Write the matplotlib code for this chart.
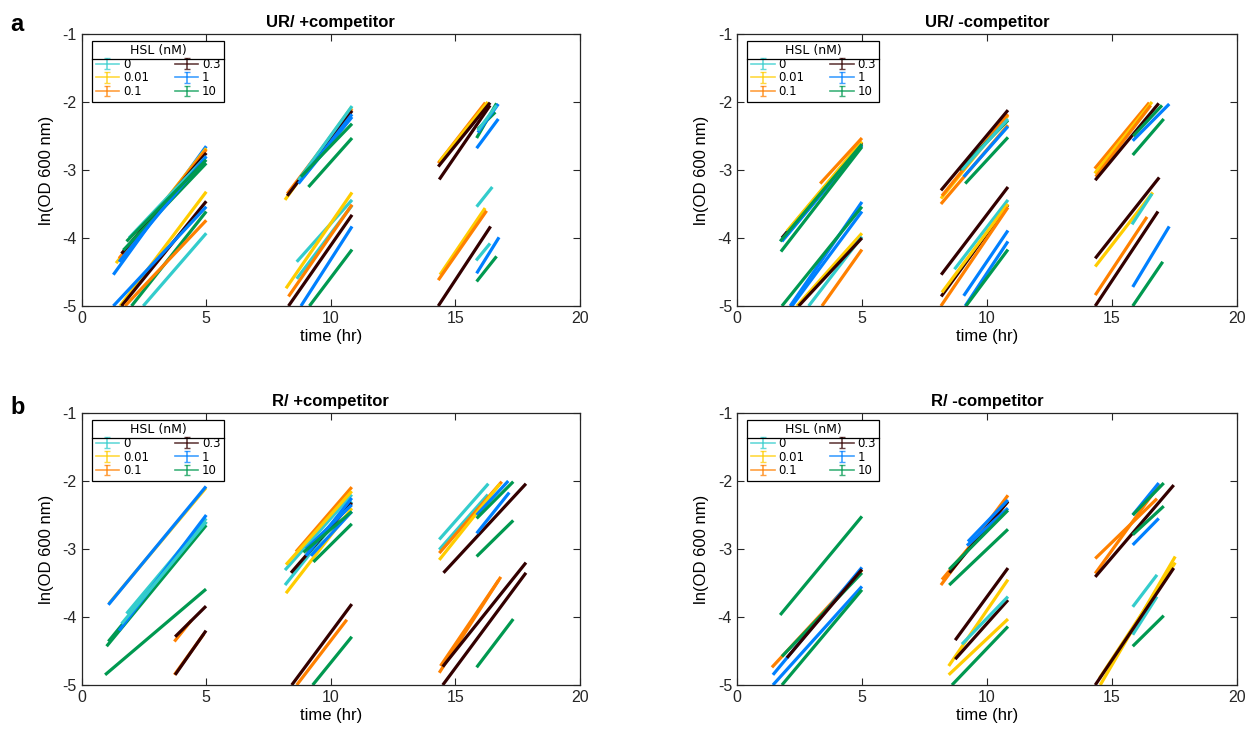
import numpy as np
import matplotlib
matplotlib.use("Agg")
import matplotlib.pyplot as plt
from matplotlib.lines import Line2D
from matplotlib.legend_handler import HandlerErrorbar
from matplotlib.container import ErrorbarContainer

plt.rcParams['font.family'] = ['Liberation Sans', 'DejaVu Sans']

# HSL concentrations and colours
hsl_labels = ["0", "0.01", "0.1", "0.3", "1", "10"]
hsl_colors = ["#33CCCC", "#FFCC00", "#FF8000", "#330000", "#0080FF", "#009950"]
legend_order = ["0", "0.01", "0.1", "0.3", "1", "10"]

# each segment: (HSL, t start, ln OD start, t end, ln OD end)
ur_plus = [
    ("1", 1.27, -4.54, 5.0, -2.65), ("0.01", 1.38, -4.37, 5.0, -2.68),
    ("0.1", 1.5, -4.3, 5.0, -2.7), ("0.3", 1.6, -4.23, 5.0, -2.75),
    ("0", 1.9, -4.0, 5.0, -2.8), ("10", 1.67, -4.18, 5.0, -2.9),
    ("1", 1.5, -4.35, 5.0, -2.8), ("10", 1.8, -4.05, 5.0, -2.85),
    ("0.01", 1.54, -5.0, 5.0, -3.32), ("0.3", 1.6, -5.0, 5.0, -3.46),
    ("1", 1.27, -5.0, 5.0, -3.54), ("10", 2.0, -5.0, 5.0, -3.61),
    ("0.1", 1.74, -5.0, 5.0, -3.74), ("0", 2.47, -5.0, 5.0, -3.93),
    ("0.01", 8.16, -3.44, 10.84, -2.07), ("0.1", 8.25, -3.35, 10.85, -2.1),
    ("0.3", 8.25, -3.38, 10.85, -2.13), ("0", 8.7, -3.15, 10.85, -2.06),
    ("1", 8.7, -3.2, 10.85, -2.22), ("1", 8.9, -3.1, 10.85, -2.18),
    ("10", 8.8, -3.1, 10.85, -2.32), ("10", 9.1, -3.25, 10.85, -2.53),
    ("0", 8.63, -4.35, 10.85, -3.44), ("0.01", 8.2, -4.74, 10.85, -3.33),
    ("0", 8.63, -4.6, 10.85, -3.52), ("0.1", 8.3, -4.86, 10.85, -3.51),
    ("0.3", 8.3, -5.0, 10.85, -3.66), ("1", 8.8, -5.0, 10.85, -3.83),
    ("10", 9.14, -5.0, 10.85, -4.17),
    ("0.1", 14.31, -2.9, 16.2, -2.01), ("0.01", 14.35, -2.88, 16.3, -2.0),
    ("0.3", 14.31, -2.95, 16.39, -2.01), ("0.3", 14.35, -3.14, 16.39, -2.05),
    ("10", 15.85, -2.53, 16.65, -2.02), ("10", 15.9, -2.4, 16.6, -2.15),
    ("1", 15.85, -2.68, 16.72, -2.25), ("1", 15.9, -2.45, 16.72, -2.03),
    ("0", 15.9, -2.42, 16.65, -2.05),
    ("0", 15.85, -3.54, 16.48, -3.25), ("0.01", 14.38, -4.54, 16.19, -3.56),
    ("0.1", 14.31, -4.62, 16.25, -3.6), ("0.3", 14.31, -5.0, 16.41, -3.83),
    ("0", 15.83, -4.33, 16.39, -4.08), ("1", 15.85, -4.52, 16.75, -3.99),
    ("10", 15.85, -4.64, 16.65, -4.27),
]

ur_minus = [
    ("0.3", 1.8, -4.0, 5.0, -2.6), ("0", 1.9, -4.0, 5.0, -2.63),
    ("0.01", 2.0, -3.9, 5.0, -2.58), ("1", 1.8, -4.05, 5.0, -2.64),
    ("0.1", 3.33, -3.2, 5.0, -2.53),
    ("10", 1.73, -4.05, 5.0, -2.62), ("10", 1.76, -4.2, 5.0, -2.66),
    ("1", 2.13, -5.0, 5.0, -3.47), ("1", 2.2, -5.0, 5.0, -3.61),
    ("10", 1.8, -5.0, 5.0, -3.54), ("0.01", 2.4, -5.0, 5.0, -3.93),
    ("0", 2.87, -5.0, 5.0, -3.98), ("0.3", 2.47, -5.0, 5.0, -4.0),
    ("0.1", 3.4, -5.0, 5.0, -4.17),
    ("0.1", 8.16, -3.5, 10.84, -2.34), ("0.01", 8.16, -3.42, 10.84, -2.2),
    ("0.1", 8.2, -3.38, 10.84, -2.18), ("1", 9.07, -3.1, 10.84, -2.36),
    ("10", 9.13, -3.2, 10.84, -2.52), ("10", 8.9, -3.0, 10.84, -2.27),
    ("0", 9.0, -3.0, 10.84, -2.25), ("0.3", 8.16, -3.3, 10.84, -2.12),
    ("0.3", 8.17, -4.54, 10.84, -3.25), ("0", 8.7, -4.46, 10.84, -3.44),
    ("0.3", 8.17, -4.86, 10.84, -3.51), ("0.01", 8.2, -4.8, 10.84, -3.5),
    ("0.1", 8.16, -5.0, 10.84, -3.55), ("1", 9.07, -4.85, 10.84, -3.89),
    ("1", 9.13, -5.0, 10.84, -4.05), ("10", 9.16, -5.0, 10.84, -4.17),
    ("0.1", 14.31, -2.98, 16.49, -2.01), ("0.01", 14.31, -3.05, 16.6, -2.0),
    ("0.1", 14.35, -3.1, 16.55, -2.05), ("0.3", 14.33, -3.15, 16.87, -2.02),
    ("1", 15.83, -2.57, 17.29, -2.03), ("10", 15.83, -2.78, 17.07, -2.25),
    ("10", 15.85, -2.5, 17.0, -2.05),
    ("0.3", 14.33, -4.3, 16.89, -3.11), ("0.01", 14.33, -4.42, 16.63, -3.33),
    ("0", 15.8, -3.8, 16.6, -3.35), ("0.1", 14.33, -4.84, 16.4, -3.69),
    ("0.3", 14.33, -5.0, 16.84, -3.61), ("1", 15.83, -4.72, 17.29, -3.83),
    ("10", 15.83, -5.0, 17.03, -4.35),
]

r_plus = [
    ("0.01", 1.1, -3.8, 4.99, -2.1), ("1", 1.07, -3.82, 4.99, -2.08),
    ("10", 1.0, -4.43, 5.0, -2.65), ("10", 1.07, -4.36, 5.0, -2.6),
    ("0", 1.8, -3.95, 5.0, -2.55), ("1", 1.5, -4.2, 5.0, -2.5),
    ("0", 1.6, -4.1, 5.0, -2.6), ("10", 0.94, -4.85, 4.99, -3.59),
    ("0.1", 3.72, -4.36, 4.4, -4.05), ("0.3", 3.75, -4.29, 4.99, -3.84),
    ("0.1", 3.72, -4.85, 4.9, -4.25), ("0.3", 3.75, -4.85, 4.99, -4.2),
    ("0.1", 8.6, -3.04, 10.84, -2.09), ("0", 8.16, -3.31, 10.84, -2.2),
    ("0.01", 8.2, -3.23, 10.84, -2.15), ("0.01", 8.2, -3.65, 10.84, -2.4),
    ("0", 8.16, -3.53, 10.84, -2.3), ("0.3", 8.4, -3.35, 10.84, -2.32),
    ("1", 9.0, -3.1, 10.84, -2.25), ("1", 9.2, -3.1, 10.84, -2.45),
    ("1", 9.0, -3.0, 10.84, -2.35), ("10", 9.3, -3.19, 10.84, -2.63),
    ("10", 8.9, -3.05, 10.84, -2.45),
    ("0.1", 8.63, -5.0, 10.64, -4.04), ("0.3", 8.43, -5.0, 10.84, -3.81),
    ("10", 9.27, -5.0, 10.84, -4.29),
    ("0", 14.35, -2.86, 16.32, -2.04), ("0", 14.35, -3.01, 16.3, -2.2),
    ("0.1", 14.35, -3.06, 16.86, -2.01), ("0.01", 14.35, -3.16, 16.79, -2.04),
    ("0.3", 14.52, -3.35, 17.83, -2.04), ("1", 15.85, -2.5, 17.12, -2.0),
    ("1", 15.85, -2.77, 17.16, -2.17), ("10", 15.85, -2.55, 17.32, -2.01),
    ("10", 15.85, -3.11, 17.32, -2.58),
    ("0.1", 14.35, -4.82, 16.82, -3.41), ("0.1", 14.4, -4.72, 16.73, -3.46),
    ("0.3", 14.49, -4.73, 17.83, -3.2), ("0.3", 14.49, -5.0, 17.83, -3.35),
    ("10", 15.85, -4.74, 17.32, -4.03),
]

r_minus = [
    ("10", 1.73, -3.97, 5.0, -2.52), ("0.1", 1.4, -4.74, 5.0, -3.31),
    ("1", 1.44, -4.85, 5.0, -3.27), ("10", 1.8, -4.58, 5.0, -3.35),
    ("0.3", 2.0, -4.6, 5.0, -3.3), ("1", 1.44, -5.0, 5.0, -3.55),
    ("10", 1.8, -5.0, 5.0, -3.6),
    ("0.1", 8.16, -3.53, 10.84, -2.21), ("0.1", 8.2, -3.45, 10.84, -2.3),
    ("0.3", 8.5, -3.35, 10.84, -2.3), ("1", 9.24, -2.89, 10.84, -2.28),
    ("1", 9.2, -2.95, 10.84, -2.4), ("10", 8.49, -3.53, 10.84, -2.71),
    ("10", 8.49, -3.3, 10.84, -2.43),
    ("0.3", 8.73, -4.34, 10.84, -3.28), ("0.01", 8.47, -4.72, 10.84, -3.45),
    ("0.3", 8.73, -4.62, 10.84, -3.75), ("0", 9.0, -4.4, 10.84, -3.7),
    ("0.01", 8.47, -4.85, 10.84, -4.03), ("10", 8.6, -5.0, 10.84, -4.14),
    ("0.1", 14.33, -3.14, 16.8, -2.26), ("0.1", 14.33, -3.36, 16.9, -2.05),
    ("0.3", 14.33, -3.41, 17.47, -2.06), ("1", 15.83, -2.5, 16.87, -2.03),
    ("1", 15.83, -2.94, 16.87, -2.55), ("10", 15.83, -2.5, 17.07, -2.03),
    ("10", 15.83, -2.79, 17.07, -2.37),
    ("0.01", 14.53, -5.0, 17.53, -3.11), ("0.01", 14.5, -4.9, 17.53, -3.2),
    ("0", 15.83, -3.85, 16.8, -3.38), ("0", 15.83, -4.26, 16.8, -3.7),
    ("0.3", 14.33, -5.0, 17.47, -3.28), ("10", 15.83, -4.43, 17.07, -3.98),
]

titles = ["UR/ +competitor", "UR/ -competitor", "R/ +competitor", "R/ -competitor"]
panels = [ur_plus, ur_minus, r_plus, r_minus]

color_of = dict(zip(hsl_labels, hsl_colors))

fig = plt.figure(figsize=(12.49, 7.40), dpi=100)
boxes = [
    [0.0654, 0.5865, 0.3990, 0.3676],
    [0.5900, 0.5865, 0.4004, 0.3676],
    [0.0654, 0.0743, 0.3990, 0.3676],
    [0.5900, 0.0743, 0.4004, 0.3676],
]

for box, title, segs in zip(boxes, titles, panels):
    ax = fig.add_axes(box)
    for hsl, t0, y0, t1, y1 in segs:
        ax.plot([t0, t1], [y0, y1], color=color_of[hsl], lw=2.3,
                solid_capstyle='butt')
    ax.set_xlim(0, 20)
    ax.set_ylim(-5, -1)
    ax.set_xticks([0, 5, 10, 15, 20])
    ax.set_yticks([-5, -4, -3, -2, -1])
    ax.set_yticklabels(["-5", "-4", "-3", "-2", "-1"])
    ax.tick_params(direction='in', top=True, right=True, length=5,
                   labelsize=11.5, colors='#262626', width=0.8)
    for sp in ax.spines.values():
        sp.set_color('#262626')
        sp.set_linewidth(0.9)
    ax.set_title(title, fontsize=12, fontweight='bold', pad=5)
    ax.set_xlabel("time (hr)", fontsize=12, labelpad=2)
    ax.set_ylabel("ln(OD 600 nm)", fontsize=12, labelpad=6)

    handles = []
    for lab in legend_order:
        h = ax.errorbar([np.nan], [np.nan], yerr=[0.1], color=color_of[lab],
                        alpha=0.75, capsize=2.5, lw=1.2, label=lab)
        handles.append(h)
    leg = ax.legend(handles=handles, labels=legend_order, ncol=2,
                    title="HSL (nM)", loc='upper left',
                    bbox_to_anchor=(0.021, 0.975), borderaxespad=0,
                    fontsize=8.5, title_fontsize=9, fancybox=False,
                    edgecolor='black', framealpha=1, handlelength=2.0,
                    handletextpad=0.3, columnspacing=2.2, labelspacing=0.05,
                    borderpad=0.3,
                    handler_map={ErrorbarContainer: HandlerErrorbar(yerr_size=0.45)})
    leg.get_frame().set_linewidth(0.9)
    leg.get_title().set_family('DejaVu Sans')
    for txt in leg.get_texts():
        txt.set_family('DejaVu Sans')

fig.canvas.draw()
# separator line under the legend title
for ax in fig.axes:
    leg = ax.get_legend()
    fb = leg.get_frame().get_window_extent()
    tb = leg.get_title().get_window_extent()
    yline = tb.y0 - 2
    inv = fig.transFigure.inverted()
    (x0, y0f) = inv.transform((fb.x0, yline))
    (x1, _) = inv.transform((fb.x1, yline))
    fig.add_artist(Line2D([x0, x1], [y0f, y0f], color='black', lw=0.9))

fig.text(0.008, 0.958, "a", fontsize=17, fontweight='bold')
fig.text(0.008, 0.440, "b", fontsize=17, fontweight='bold')

fig.savefig("out.png", dpi=100)
